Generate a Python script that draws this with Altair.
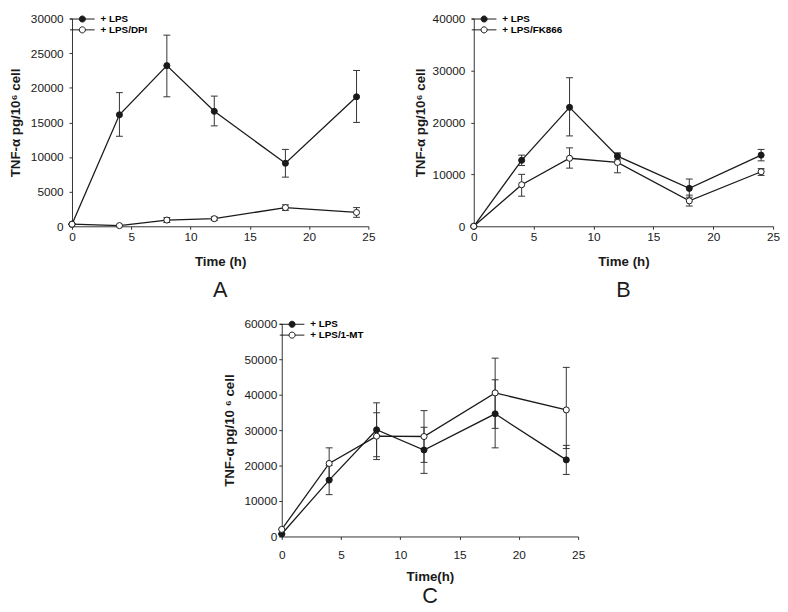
import altair as alt
import pandas as pd

# ---------------- data ----------------
time_h = [0, 4, 8, 12, 18, 24]

# Panel A
a_series = ["+ LPS", "+ LPS/DPI"]
a_lps = [300, 16100, 23200, 16600, 9100, 18700]
a_lps_lo = [300, 13000, 18700, 14500, 7100, 15000]
a_lps_hi = [300, 19300, 27600, 18800, 11100, 22500]
a_dpi = [300, 100, 900, 1100, 2700, 2000]
a_dpi_lo = [300, 100, 550, 850, 2300, 1300]
a_dpi_hi = [300, 100, 1250, 1350, 3100, 2700]

# Panel B
b_series = ["+ LPS", "+ LPS/FK866"]
b_lps = [0, 12700, 22900, 13500, 7300, 13700]
b_lps_lo = [0, 11700, 17400, 12800, 5600, 12600]
b_lps_hi = [0, 13700, 28600, 14100, 9100, 14800]
b_fk = [0, 8000, 13100, 12300, 4900, 10500]
b_fk_lo = [0, 5800, 11200, 10300, 3900, 9800]
b_fk_hi = [0, 10000, 15100, 14100, 6000, 11100]

# Panel C
c_series = ["+ LPS", "+ LPS/1-MT"]
c_lps = [700, 15900, 30100, 24400, 34600, 21600]
c_lps_lo = [700, 11800, 22500, 17800, 25000, 17500]
c_lps_hi = [700, 20000, 37700, 30800, 44200, 25700]
c_mt = [2000, 20600, 28300, 28200, 40500, 35700]
c_mt_lo = [2000, 16200, 21700, 20900, 30500, 24800]
c_mt_hi = [2000, 25000, 34900, 35500, 50300, 47700]

x_ticks = [0, 5, 10, 15, 20, 25]
a_yticks = [0, 5000, 10000, 15000, 20000, 25000, 30000]
b_yticks = [0, 10000, 20000, 30000, 40000]
c_yticks = [0, 10000, 20000, 30000, 40000, 50000, 60000]

FONT = "Liberation Sans"
INK = "#1a1a1a"
# legend symbol: line with a circle in the middle (line split so open circle stays clean)
SYM = ("M-2.5,0L-0.62,0M0.62,0L2.5,0"
       "M0.62,0A0.62,0.62 0 1,1 -0.62,0A0.62,0.62 0 1,1 0.62,0Z")


def frame(series, means, los, his):
    rows = []
    for name, m, lo, hi in zip(series, means, los, his):
        for t, v, l, h in zip(time_h, m, lo, hi):
            rows.append({"t": t, "v": v, "lo": l, "hi": h, "s": name})
    return pd.DataFrame(rows)


def panel(df, series, ymax, yticks, ytitle, xtitle, label, w, h,
          xlabpad=2, xtitlepad=13, ylabpad=6, ytitlepad=5, title_off=12):
    xs = alt.Scale(domain=[0, 25], nice=False, padding=0)
    ys = alt.Scale(domain=[0, ymax], nice=False, padding=0)
    xax = alt.Axis(values=x_ticks, title=xtitle, labelPadding=xlabpad,
                   titlePadding=xtitlepad, format="d", labelOverlap=False,
                   labelFlush=False, offset=0)
    yax = alt.Axis(values=yticks, title=ytitle, labelPadding=ylabpad,
                   titlePadding=ytitlepad, format="d", labelOverlap=False,
                   labelFlush=False, offset=0)
    base = alt.Chart(df)
    X = alt.X("t:Q", scale=xs, axis=xax)
    Y = alt.Y("v:Q", scale=ys, axis=yax)
    err = base.mark_rule(color="#333", strokeWidth=1).encode(
        x=X, y=alt.Y("lo:Q", scale=ys, axis=yax), y2="hi:Q")
    cap_lo = base.mark_rule(color="#333", strokeWidth=1, xOffset=-3.5, x2Offset=3.5).encode(
        x=X, x2="t:Q", y=alt.Y("lo:Q", scale=ys, axis=yax))
    cap_hi = base.mark_rule(color="#333", strokeWidth=1, xOffset=-3.5, x2Offset=3.5).encode(
        x=X, x2="t:Q", y=alt.Y("hi:Q", scale=ys, axis=yax))
    line = base.mark_line(color=INK, strokeWidth=1.3).encode(
        x=X, y=Y, detail="s:N")
    pts = base.mark_point(filled=True, stroke=INK, strokeWidth=1, size=38, opacity=1).encode(
        x=X, y=Y,
        fill=alt.Fill("s:N", scale=alt.Scale(domain=series, range=[INK, "white"]),
                      legend=alt.Legend(title=None, orient="none", legendX=5, legendY=-5,
                                        symbolType=SYM, symbolSize=100,
                                        symbolStrokeColor=INK, symbolStrokeWidth=1,
                                        labelFont=FONT, labelFontSize=10,
                                        labelFontWeight="bold", labelColor="#000000",
                                        labelOffset=13, rowPadding=0, padding=0)))
    return alt.layer(err, cap_lo, cap_hi, line, pts).properties(
        width=w, height=h,
        title=alt.TitleParams(label, orient="bottom", anchor="middle", frame="group",
                              fontSize=22, fontWeight="normal", font=FONT,
                              color=INK, offset=title_off))


A = panel(frame(a_series, [a_lps, a_dpi], [a_lps_lo, a_dpi_lo], [a_lps_hi, a_dpi_hi]),
          a_series, 30000, a_yticks, "TNF-α pg/10⁶ cell", "Time (h)", "A", 301, 211,
          ytitlepad=8)
B = panel(frame(b_series, [b_lps, b_fk], [b_lps_lo, b_fk_lo], [b_lps_hi, b_fk_hi]),
          b_series, 40000, b_yticks, "TNF-α pg/10⁶ cell", "Time (h)", "B", 304, 211)
C = panel(frame(c_series, [c_lps, c_mt], [c_lps_lo, c_mt_lo], [c_lps_hi, c_mt_hi]),
          c_series, 60000, c_yticks, "TNF-α pg/10 ⁶ cell", "Time(h)", "C", 301, 216,
          xlabpad=10, xtitlepad=10, ylabpad=2, ytitlepad=8, title_off=3)

spacer = alt.Chart(pd.DataFrame({"s": [""]})).mark_text().encode(
    text="s:N").properties(width=152, height=10)

top = alt.hconcat(A, B, spacing=38).resolve_scale(fill="independent")
bottom = alt.hconcat(spacer, C, spacing=0).resolve_scale(fill="independent")

chart = alt.vconcat(top, bottom, spacing=17).resolve_scale(
    fill="independent"
).configure(
    padding=0, background="white"
).configure_view(stroke=None).configure_axis(
    grid=False, domainColor="#333", domainWidth=1, tickColor="#333", tickSize=3,
    labelFont=FONT, labelFontSize=12, labelColor=INK,
    titleFont=FONT, titleFontSize=13.5, titleFontWeight="bold", titleColor=INK,
).configure_scale(continuousPadding=0)

chart.save("out.html", embed_options={"renderer": "svg", "actions": False})
